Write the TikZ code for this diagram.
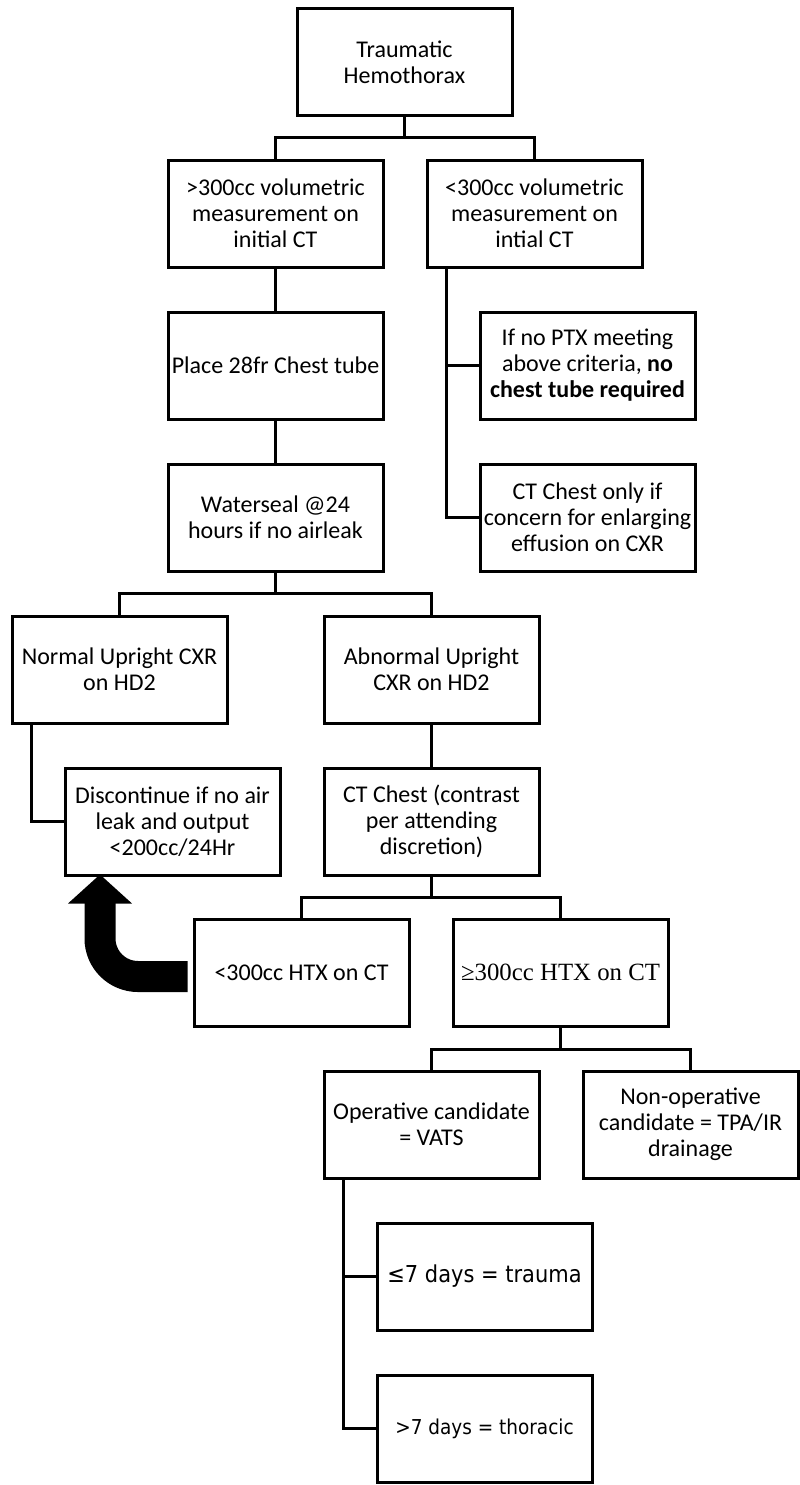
\documentclass[tikz,border=0pt]{standalone}
\usepackage{fontspec}
\setmainfont{Carlito}
\newfontfamily\tahoma{DejaVu Sans}[FakeStretch=0.9]
\newfontfamily\timesf{Liberation Serif}
\usetikzlibrary{calc}
\begin{document}
\begin{tikzpicture}[x=1pt,y=-1pt,
  box/.style={draw, line width=3pt, minimum width=215pt, minimum height=107pt, inner sep=0pt,
    align=center, font=\fontsize{24}{26}\selectfont},
  conn/.style={line width=3pt}]
\fill[white] (0,0) rectangle (800,1485);
\useasboundingbox (0,0) rectangle (800,1485);
\node[box] (n1) at (404.5,62.5) {Traumatic\\Hemothorax};
\node[box] (n2) at (275.5,213.5) {>300cc volumetric\\measurement on\\initial CT};
\node[box] (n3) at (534.5,213.5) {<300cc volumetric\\measurement on\\intial CT};
\node[box] (n4) at (275.5,365.5) {Place 28fr Chest tube};
\node[box] (n5) at (275.5,517.5) {Waterseal @24\\hours if no airleak};
\node[box] (n6) at (587.5,365.5) {If no PTX meeting\\above criteria, \textbf{no}\\\textbf{chest tube required}};
\node[box] (n7) at (587.5,517.5) {CT Chest only if\\concern for enlarging\\effusion on CXR};
\node[box] (n8) at (119.5,669.5) {Normal Upright CXR\\on HD2};
\node[box] (n9) at (431.5,669.5) {Abnormal Upright\\CXR on HD2};
\node[box] (n10) at (172.5,821.5) {Discontinue if no air\\leak and output\\<200cc/24Hr};
\node[box] (n11) at (431.5,821.5) {CT Chest (contrast\\per attending\\discretion)};
\node[box] (n12) at (301.5,972.5) {<300cc HTX on CT};
\node[box, font=\timesf\fontsize{24.8}{28}\selectfont] (n13) at (560.5,972.5) {≥300cc HTX on CT};
\node[box] (n14) at (431.5,1124.5) {Operative candidate\\= VATS};
\node[box] (n15) at (690.5,1124.5) {Non-operative\\candidate = TPA/IR\\drainage};
\node[box, font=\tahoma\fontsize{23.3}{26}\selectfont] (n16) at (484.5,1276.5) {≤7 days = trauma};
\node[box, font=\tahoma\fontsize{20.5}{24}\selectfont] (n17) at (484.5,1428.5) {>7 days = thoracic};

\coordinate (b1) at (404.5,138);
\coordinate (b5) at (275.5,593);
\coordinate (b11) at (431.5,897);
\coordinate (b13) at (560.5,1049);
\coordinate (c3) at ($(n3.south west)+(21,0)$);
\coordinate (c8) at ($(n8.south west)+(21,0)$);
\coordinate (c14) at ($(n14.south west)+(21,0)$);

\draw[conn] (n1.south) -- (b1);
\draw[conn] (n2.north) |- (b1) -| (n3.north);
\draw[conn] (n2.south) -- (n4.north);
\draw[conn] (n4.south) -- (n5.north);
\draw[conn] (c3) |- (n7.west);
\draw[conn] (c3 |- n6.west) -- (n6.west);
\draw[conn] (n5.south) -- (b5);
\draw[conn] (n8.north) |- (b5) -| (n9.north);
\draw[conn] (c8) |- (n10.west);
\draw[conn] (n9.south) -- (n11.north);
\draw[conn] (n11.south) -- (b11);
\draw[conn] (n12.north) |- (b11) -| (n13.north);
\draw[conn] (n13.south) -- (b13);
\draw[conn] (n14.north) |- (b13) -| (n15.north);
\draw[conn] (c14) |- (n16.west);
\draw[conn] (c14 |- n16.west) |- (n17.west);

% thick bent arrow
\coordinate (a0) at ($(n12.west)+(-5,4)$);
\coordinate (tip) at ($(n10.south west)+(36.5,-2)$);
\fill (tip) -- ++(-32,29) -- ++(64,0) -- cycle;
\draw[line width=31pt, rounded corners=38pt] (a0) -| ($(tip)+(0,28)$);
\end{tikzpicture}
\end{document}
